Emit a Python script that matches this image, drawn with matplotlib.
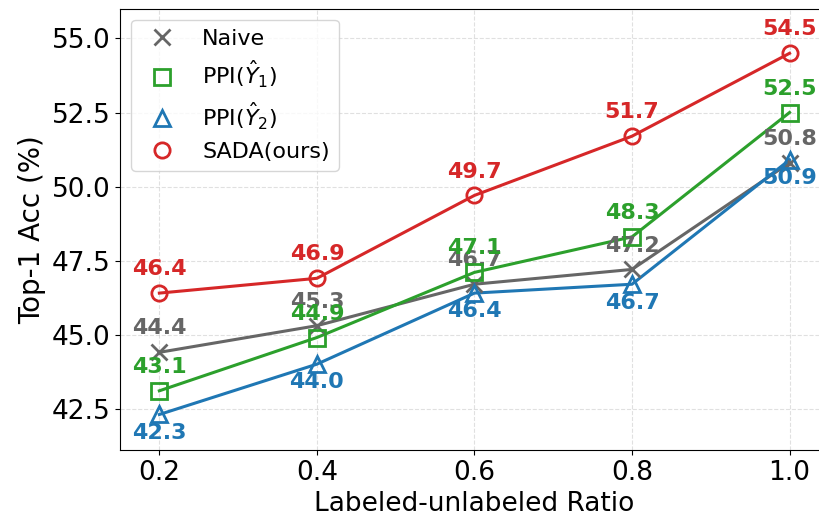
import matplotlib.pyplot as plt
from matplotlib.ticker import MultipleLocator

ratios = [0.2, 0.4, 0.6, 0.8, 1.0]
naive = [44.4, 45.3, 46.7, 47.2, 50.8]
ppi_y1 = [43.1, 44.9, 47.1, 48.3, 52.5]
ppi_y2 = [42.3, 44.0, 46.4, 46.7, 50.9]
sada = [46.4, 46.9, 49.7, 51.7, 54.5]

series = [
    (naive, 'Naive', 'x', '#666666', 'above'),
    (ppi_y1, r'PPI($\hat{Y}_1$)', 's', '#2ca02c', 'above'),
    (ppi_y2, r'PPI($\hat{Y}_2$)', '^', '#1f77b4', 'below'),
    (sada, 'SADA(ours)', 'o', '#d62728', 'above'),
]

fig = plt.figure(figsize=(8.2, 5.19), dpi=100)
ax = fig.add_axes([0.1463, 0.1329, 0.8646, 0.85])

for vals, name, mk, col, pos in series:
    ax.plot(ratios, vals, color=col, linewidth=2.2, zorder=2)
    ax.plot(ratios, vals, linestyle='none', marker=mk, markersize=11,
            markerfacecolor='none', markeredgecolor=col, markeredgewidth=2,
            label=name, zorder=3)
    for xv, yv in zip(ratios, vals):
        if pos == 'above':
            ax.annotate(f'{yv:.1f}', (xv, yv), xytext=(0, 10), textcoords='offset points',
                        ha='center', va='bottom', fontsize=16, fontweight='bold', color=col)
        else:
            ax.annotate(f'{yv:.1f}', (xv, yv), xytext=(0, -6), textcoords='offset points',
                        ha='center', va='top', fontsize=16, fontweight='bold', color=col)

ax.set_xlim(0.15, 1.05)
ax.set_ylim(41.1, 56.0)
ax.set_xticks(ratios)
ax.yaxis.set_major_locator(MultipleLocator(2.5))
ax.tick_params(labelsize=19)
ax.set_xlabel('Labeled-unlabeled Ratio', fontsize=19)
ax.set_ylabel('Top-1 Acc (%)', fontsize=20)
ax.grid(True, linestyle='--', color='#cccccc', alpha=0.6)
ax.legend(loc='upper left', fontsize=16, labelspacing=0.45, handletextpad=0.8)

fig.savefig('out.png', dpi=100)
